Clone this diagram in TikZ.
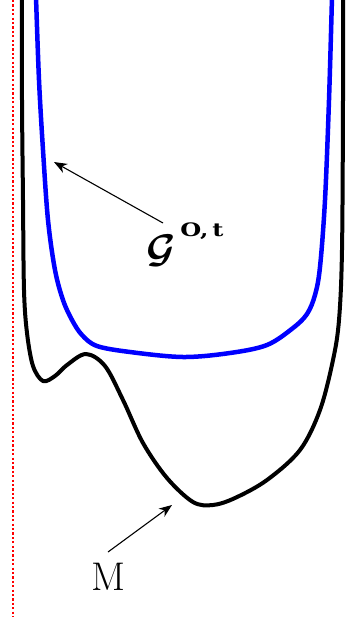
\RequirePackage{fix-cm}
\documentclass[tikz,border=0pt]{standalone}
\usepackage{bm}
\usepackage{fontspec}
\newfontfamily\supfont{DejaVu Serif}
\usetikzlibrary{arrows.meta}
\begin{document}
\begin{tikzpicture}[x=1pt,y=-1pt,
  blackcurve/.style={line width=4pt,black,line join=round},
  bluecurve/.style={line width=4.5pt,blue,line join=round},
  redline/.style={red,line width=2.8pt,dash pattern=on 2.2pt off 2.2pt},
  pointer/.style={line width=1.1pt,-{Stealth[length=13pt,width=10pt,inset=4pt]}},
  lbl/.style={inner sep=0pt}]
\useasboundingbox (0,0) rectangle (351,624);
\fill[white] (0,0) rectangle (351,624);
% red dotted boundary
\draw[redline] (13,0) -- (13,617);
% black curve M
\draw[blackcurve] plot[smooth,tension=0.55] coordinates {
 (22,-3) (22,100) (23,200) (24,290) (27,333) (33,366) (43,381) (55,376)
 (67,365) (86,354) (105,366) (123,400) (143,443) (167,478) (193,502)
 (213,505) (235,498) (267,480) (300,450) (320,410) (333,360) (339,320)
 (342,250) (343,100) (343,-3)};
% blue curve G
\draw[bluecurve] plot[smooth,tension=0.55] coordinates {
 (36,-3) (39,80) (43,150) (48,220) (55,270) (63,300) (72,320) (82,335)
 (97,346) (130,352) (183,357) (230,353) (267,345) (293,328) (307,314)
 (315,295) (320,267) (325,200) (329,100) (332,-3)};
% labels
\node[lbl,anchor=center] (glabel) at (161,251) {\fontsize{40}{46}\selectfont$\bm{\mathcal{G}}$};
\node[lbl,anchor=center] (gsup) at (202,231) {\scalebox{1.3}[1]{\supfont\fontsize{18.5}{22}\selectfont\bfseries O,\,t}};
\node[lbl,anchor=center] (mlabel) at (108,577) {\fontsize{40}{46}\selectfont M};
\coordinate (gtail) at (163,223);
\coordinate (gtip) at (54,162);
\coordinate (mtail) at (108,552);
\coordinate (mtip) at (172,505);
\draw[pointer] (gtail) -- (gtip);
\draw[pointer] (mtail) -- (mtip);
\end{tikzpicture}
\end{document}
